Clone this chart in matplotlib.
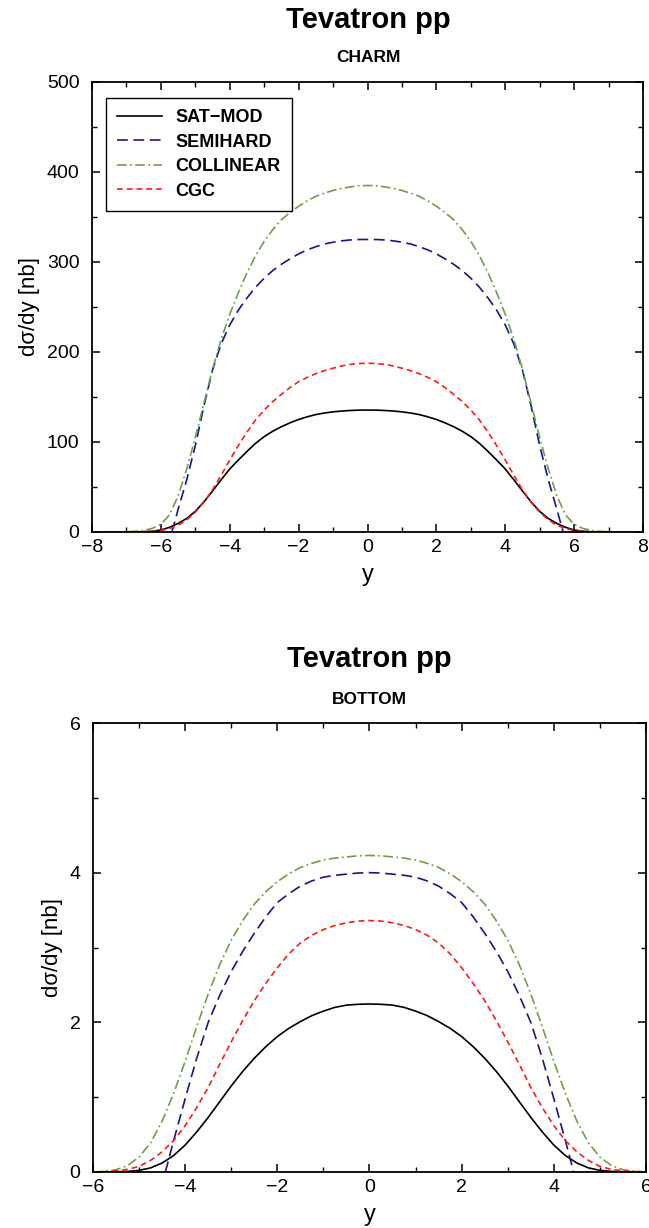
import matplotlib
matplotlib.use("Agg")
import matplotlib.pyplot as plt
from matplotlib.ticker import MultipleLocator

plt.rcParams['font.family'] = ['Liberation Sans', 'DejaVu Sans']
plt.rcParams['lines.scale_dashes'] = False

# ---- CHARM: rapidity distribution dsigma/dy [nb] ----
charm_y = [-8, -7.5, -7, -6.75, -6.5, -6.25, -6, -5.75, -5.5, -5.25, -5, -4.75, -4.5, -4.25,
           -4, -3.75, -3.5, -3.25, -3, -2.75, -2.5, -2.25, -2, -1.75, -1.5, -1.25, -1, -0.75,
           -0.5, -0.25, 0, 0.25, 0.5, 0.75, 1, 1.25, 1.5, 1.75, 2, 2.25, 2.5, 2.75, 3, 3.25,
           3.5, 3.75, 4, 4.25, 4.5, 4.75, 5, 5.25, 5.5, 5.75, 6, 6.25, 6.5, 6.75, 7, 7.5, 8]
charm_satmod = [0, 0, 0, 0.1, 0.3, 0.9, 2.2, 5.2, 9.5, 15, 23, 33.5, 45.5, 58,
                70, 80, 89.5, 98.5, 106, 112, 117, 121.3, 125, 128, 130.5, 132.2, 133.5, 134.4,
                135, 135.4, 135.5, 135.4, 135, 134.4, 133.5, 132.2, 130.5, 128, 125, 121.3, 117, 112, 106, 98.5,
                89.5, 80, 70, 58, 45.5, 33.5, 23, 15, 9.5, 5.2, 2.2, 0.9, 0.3, 0.1, 0, 0, 0]
charm_cgc = [0, 0, 0, 0.05, 0.2, 0.6, 1.6, 3.8, 7.5, 13.5, 22, 33, 47, 63,
             80, 96, 111, 124.5, 135.5, 145, 153, 160.5, 167, 171.8, 176, 179.3, 182, 184.5,
             186.2, 187.2, 187.5, 187.2, 186.2, 184.5, 182, 179.3, 176, 171.8, 167, 160.5, 153, 145, 135.5, 124.5,
             111, 96, 80, 63, 47, 33, 22, 13.5, 7.5, 3.8, 1.6, 0.6, 0.2, 0.05, 0, 0, 0]
charm_coll = [0, 0, 0.3, 0.8, 1.8, 4, 8.5, 19, 40, 70, 105, 143, 181, 214,
              242, 266, 288, 307, 323, 336, 347, 355, 362, 368, 373, 376.5, 379.5, 381.8,
              383.5, 384.7, 385, 384.7, 383.5, 381.8, 379.5, 376.5, 373, 368, 362, 355, 347, 336, 323, 307,
              288, 266, 242, 214, 181, 143, 105, 70, 40, 19, 8.5, 4, 1.8, 0.8, 0.3, 0, 0]

charm_semi_y = [-5.68, -5.5, -5.25, -5, -4.75, -4.5, -4.25, -4, -3.75, -3.5, -3.25, -3, -2.75,
                -2.5, -2.25, -2, -1.75, -1.5, -1.25, -1, -0.75, -0.5, -0.25, 0, 0.25, 0.5, 0.75,
                1, 1.25, 1.5, 1.75, 2, 2.25, 2.5, 2.75, 3, 3.25, 3.5, 3.75, 4, 4.25, 4.5, 4.75,
                5, 5.25, 5.5, 5.68]
charm_semi = [0, 25, 58, 96, 140, 180, 209, 230, 246.5, 260, 272, 282, 290.5,
              297.5, 303.5, 309, 313.5, 317, 320, 322, 323.5, 324.5, 325, 325, 325, 324.5, 323.5,
              322, 320, 317, 313.5, 309, 303.5, 297.5, 290.5, 282, 272, 260, 246.5, 230, 209, 180, 140,
              96, 58, 25, 0]

# ---- BOTTOM: rapidity distribution dsigma/dy [nb] ----
bottom_y = [-6, -5.75, -5.5, -5.25, -5, -4.75, -4.5, -4.25, -4, -3.75, -3.5, -3.25, -3,
            -2.75, -2.5, -2.25, -2, -1.75, -1.5, -1.25, -1, -0.75, -0.5, -0.25, 0,
            0.25, 0.5, 0.75, 1, 1.25, 1.5, 1.75, 2, 2.25, 2.5, 2.75, 3,
            3.25, 3.5, 3.75, 4, 4.25, 4.5, 4.75, 5, 5.25, 5.5, 5.75, 6]
bottom_satmod = [0, 0.001, 0.003, 0.008, 0.022, 0.055, 0.12, 0.22, 0.36, 0.535, 0.73, 0.94, 1.15,
                 1.345, 1.52, 1.675, 1.81, 1.92, 2.01, 2.09, 2.15, 2.2, 2.23, 2.241, 2.245,
                 2.241, 2.23, 2.2, 2.15, 2.09, 2.01, 1.92, 1.81, 1.675, 1.52, 1.345, 1.15,
                 0.94, 0.73, 0.535, 0.36, 0.22, 0.12, 0.055, 0.022, 0.008, 0.003, 0.001, 0]
bottom_cgc = [0, 0.005, 0.015, 0.035, 0.075, 0.155, 0.27, 0.42, 0.62, 0.86, 1.13, 1.44, 1.74,
              2.025, 2.29, 2.52, 2.73, 2.915, 3.06, 3.165, 3.24, 3.295, 3.33, 3.353, 3.36,
              3.353, 3.33, 3.295, 3.24, 3.165, 3.06, 2.915, 2.73, 2.52, 2.29, 2.025, 1.74,
              1.44, 1.13, 0.86, 0.62, 0.42, 0.27, 0.155, 0.075, 0.035, 0.015, 0.005, 0]
bottom_coll = [0, 0.01, 0.03, 0.085, 0.2, 0.39, 0.68, 1.05, 1.48, 1.94, 2.38, 2.77, 3.1,
               3.36, 3.58, 3.745, 3.88, 3.985, 4.07, 4.125, 4.17, 4.195, 4.21, 4.225, 4.23,
               4.225, 4.21, 4.195, 4.17, 4.125, 4.07, 3.985, 3.88, 3.745, 3.58, 3.36, 3.1,
               2.77, 2.38, 1.94, 1.48, 1.05, 0.68, 0.39, 0.2, 0.085, 0.03, 0.01, 0]

bottom_semi_y = [-4.43, -4.25, -4, -3.75, -3.5, -3.25, -3, -2.75, -2.5, -2.25, -2, -1.75, -1.5,
                 -1.25, -1, -0.75, -0.5, -0.25, 0, 0.25, 0.5, 0.75, 1, 1.25, 1.5, 1.75, 2,
                 2.25, 2.5, 2.75, 3, 3.25, 3.5, 3.75, 4, 4.25, 4.43]
bottom_semi = [0, 0.42, 0.98, 1.52, 2.0, 2.36, 2.68, 2.95, 3.19, 3.41, 3.6, 3.72, 3.82,
               3.89, 3.94, 3.965, 3.98, 3.995, 4.0, 3.995, 3.98, 3.965, 3.94, 3.89, 3.82, 3.72, 3.6,
               3.41, 3.19, 2.95, 2.68, 2.36, 2.0, 1.52, 0.98, 0.42, 0]

labels = ['SAT\u2212MOD', 'SEMIHARD', 'COLLINEAR', 'CGC']
colors = ['black', '#16168a', '#6f9e4f', '#ff1a1a']
styles = ['-', (0, (7.8, 4.0)), (0, (7.0, 2.4, 1.3, 2.4)), (0, (4.2, 2.8))]
LW = 1.2

fig = plt.figure(figsize=(6.49, 12.28), dpi=100)
W, H = 649.0, 1228.0


def make_axes(l, r, t, b):
    return fig.add_axes([l / W, 1 - b / H, (r - l) / W, (b - t) / H])


def style_axes(ax, xmaj, xmin, ymaj, ymin):
    ax.xaxis.set_major_locator(MultipleLocator(xmaj))
    ax.xaxis.set_minor_locator(MultipleLocator(xmin))
    ax.yaxis.set_major_locator(MultipleLocator(ymaj))
    ax.yaxis.set_minor_locator(MultipleLocator(ymin))
    ax.tick_params(which='both', direction='in', top=True, right=True, labelsize=14)
    ax.tick_params(axis='x', which='major', pad=5)
    ax.tick_params(axis='y', which='major', pad=9)
    ax.tick_params(which='major', length=6, width=1.1)
    ax.tick_params(which='minor', length=3.5, width=1.0)
    for s in ax.spines.values():
        s.set_linewidth(1.3)
    ax.set_xlabel('y', fontsize=17, labelpad=6)
    ax.set_ylabel('d\u03c3/dy [nb]', fontsize=16, labelpad=5)


# top panel: charm
ax1 = make_axes(92, 643, 82, 532)
ax1.plot(charm_y, charm_satmod, color=colors[0], ls=styles[0], lw=LW, label=labels[0])
ax1.plot(charm_semi_y, charm_semi, color=colors[1], ls=styles[1], lw=LW, label=labels[1])
ax1.plot(charm_y, charm_coll, color=colors[2], ls=styles[2], lw=LW, label=labels[2])
ax1.plot(charm_y, charm_cgc, color=colors[3], ls=styles[3], lw=LW, label=labels[3])
ax1.set_xlim(-8, 8)
ax1.set_ylim(0, 500)
style_axes(ax1, 2, 1, 100, 50)
leg = ax1.legend(loc='upper left', bbox_to_anchor=(0.0254, 0.964), borderaxespad=0,
                 prop={'weight': 'bold', 'size': 13}, fancybox=False, framealpha=1,
                 edgecolor='black', handlelength=2.5, handletextpad=0.75,
                 labelspacing=0.42, borderpad=0.6)
leg.get_frame().set_linewidth(1.0)

# bottom panel: bottom quark
ax2 = make_axes(93, 646, 723, 1172)
ax2.plot(bottom_y, bottom_satmod, color=colors[0], ls=styles[0], lw=LW)
ax2.plot(bottom_semi_y, bottom_semi, color=colors[1], ls=styles[1], lw=LW)
ax2.plot(bottom_y, bottom_coll, color=colors[2], ls=styles[2], lw=LW)
ax2.plot(bottom_y, bottom_cgc, color=colors[3], ls=styles[3], lw=LW)
ax2.set_xlim(-6, 6)
ax2.set_ylim(0, 6)
style_axes(ax2, 2, 1, 2, 1)

# headings
fig.text(368 / W, 1 - 20 / H, 'Tevatron pp', ha='center', va='center', fontsize=21, fontweight='bold')
fig.text(368 / W, 1 - 58 / H, 'CHARM', ha='center', va='center', fontsize=12.5, fontweight='bold')
fig.text(369 / W, 1 - 659 / H, 'Tevatron pp', ha='center', va='center', fontsize=21, fontweight='bold')
fig.text(369 / W, 1 - 700 / H, 'BOTTOM', ha='center', va='center', fontsize=12.5, fontweight='bold')

fig.savefig('out.png', dpi=100)
